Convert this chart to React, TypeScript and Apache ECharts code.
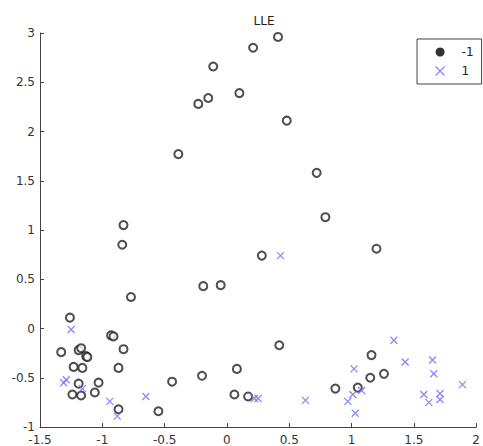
import React, { useEffect, useRef } from "react";
import * as echarts from "echarts";

const titleText = "LLE";
const seriesNames = ["-1", "1"];

const negX = [0.41, 0.21, -0.11, -0.23, -0.15, 0.10, 0.48, -0.39, 0.72, 0.79, -0.83, -0.84, 1.20, 0.28, -0.19, -0.05, -0.77, -1.26, -1.33, -1.19, -1.17, -1.13, -1.12, -1.23, -1.16, -0.93, -0.91, -0.83, -0.87, -1.19, -1.03, -1.06, -1.24, -1.17, -0.87, 0.42, -0.44, -0.20, 0.08, 0.06, 0.17, -0.55, 0.87, 1.05, 1.15, 1.26, 1.16];
const negY = [2.96, 2.85, 2.66, 2.28, 2.34, 2.39, 2.11, 1.77, 1.58, 1.13, 1.05, 0.85, 0.81, 0.74, 0.43, 0.44, 0.32, 0.11, -0.24, -0.22, -0.20, -0.28, -0.29, -0.39, -0.40, -0.07, -0.08, -0.21, -0.40, -0.56, -0.55, -0.65, -0.67, -0.68, -0.82, -0.17, -0.54, -0.48, -0.41, -0.67, -0.69, -0.84, -0.61, -0.60, -0.50, -0.46, -0.27];

const posX = [0.43, -1.25, -1.31, -1.29, -1.16, -0.94, -0.88, -0.65, 0.22, 0.25, 0.63, 0.97, 1.02, 1.01, 1.08, 1.03, 1.34, 1.43, 1.65, 1.66, 1.89, 1.58, 1.62, 1.71, 1.71];
const posY = [0.74, -0.01, -0.55, -0.52, -0.61, -0.74, -0.89, -0.69, -0.71, -0.71, -0.73, -0.74, -0.41, -0.67, -0.63, -0.86, -0.12, -0.34, -0.32, -0.46, -0.57, -0.67, -0.75, -0.66, -0.72];

const xMin = -1.5, xMax = 2, yMin = -1, yMax = 3, tickStep = 0.5;

const FONT = "DejaVu Sans";
const BLUE = "#6b6bff";
const CROSS = "path://M0,0L10,10M10,0L0,10";

export default function App() {
  const ref = useRef<HTMLDivElement>(null);
  useEffect(() => {
    if (!ref.current) return;
    const chart = echarts.init(ref.current, null, { renderer: "svg" });
    const negData = negX.map((x, i) => [x, negY[i]]);
    const posData = posX.map((x, i) => [x, posY[i]]);
    const axisCommon = {
      axisLine: { show: true, onZero: false, lineStyle: { color: "#444", width: 1 } },
      axisTick: { show: true, inside: true, length: 4, lineStyle: { color: "#444" } },
      splitLine: { show: false },
      axisLabel: { color: "#333", fontFamily: FONT, fontSize: 12 },
    };
    chart.setOption({
      animation: false,
      backgroundColor: "#ffffff",
      title: {
        text: titleText,
        left: 259,
        textAlign: "center",
        top: 10,
        textStyle: { fontFamily: FONT, fontSize: 12, fontWeight: "normal", color: "#222" },
      },
      grid: { left: 40, right: 5, top: 33, bottom: 19, containLabel: false },
      xAxis: {
        type: "value",
        min: xMin,
        max: xMax,
        interval: tickStep,
        ...axisCommon,
        axisLabel: { ...axisCommon.axisLabel, margin: 7 },
      },
      yAxis: {
        type: "value",
        min: yMin,
        max: yMax,
        interval: tickStep,
        ...axisCommon,
        axisLabel: { ...axisCommon.axisLabel, margin: 5 },
      },
      legend: {
        orient: "vertical",
        left: 417,
        top: 39,
        padding: [7, 8, 7, 18],
        itemGap: 7,
        itemWidth: 9,
        itemHeight: 9,
        borderColor: "#444",
        borderWidth: 1,
        backgroundColor: "#fff",
        textStyle: { fontFamily: FONT, fontSize: 12, color: "#222", padding: [0, 0, 0, 12] },
        data: [
          { name: seriesNames[0], icon: "circle", itemStyle: { color: "#000", borderWidth: 0 } },
          { name: seriesNames[1], icon: CROSS, itemStyle: { color: BLUE, borderColor: BLUE, borderWidth: 1.2 } },
        ],
      },
      series: [
        {
          name: seriesNames[0],
          type: "scatter",
          symbol: "emptyCircle",
          symbolSize: 8,
          itemStyle: { color: "#222", borderColor: "#222", borderWidth: 1.4 },
          data: negData,
        },
        {
          name: seriesNames[1],
          type: "scatter",
          symbol: CROSS,
          symbolSize: 7,
          itemStyle: { color: BLUE, borderColor: BLUE, borderWidth: 1.3 },
          data: posData,
        },
      ],
    });
    return () => chart.dispose();
  }, []);
  return <div ref={ref} style={{ width: 483, height: 446, position: "absolute", left: 0, top: 0 }} />;
}
